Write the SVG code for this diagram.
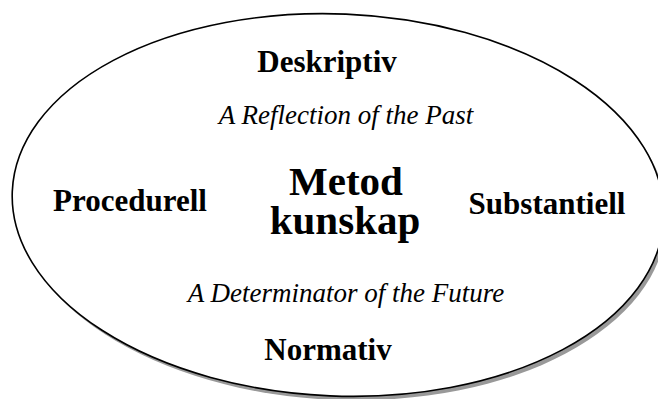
<svg xmlns="http://www.w3.org/2000/svg" width="658" height="399" viewBox="0 0 658 399">
  <style>
    .label { font-family: "Liberation Serif", "Times New Roman", serif; font-weight: bold; font-size: 31px; fill: #000; text-anchor: middle; }
    .title { font-family: "Liberation Serif", "Times New Roman", serif; font-weight: bold; font-size: 41px; fill: #000; text-anchor: middle; }
    .note { font-family: "Liberation Serif", "Times New Roman", serif; font-style: italic; font-size: 27px; fill: #000; text-anchor: middle; }
  </style>
  <defs>
    <ellipse id="shape" cx="0" cy="0" rx="326" ry="191"/>
  </defs>
  <rect width="658" height="399" fill="#fff"/>
  <!-- drop shadow and outline of the ellipse -->
  <g id="ellipse">
    <use href="#shape" transform="translate(341 209) rotate(2.4)" fill="#999"/>
    <use href="#shape" transform="translate(338 205) rotate(2.4)" fill="#fff" stroke="#000" stroke-width="1.6"/>
  </g>
  <g id="connectors"></g>
  <g id="deskriptiv"><text class="label" x="327" y="72">Deskriptiv</text></g>
  <g id="reflection"><text class="note" x="346" y="124">A Reflection of the Past</text></g>
  <g id="procedurell"><text class="label" x="130" y="211">Procedurell</text></g>
  <g id="metodkunskap">
    <text class="title" x="346" y="195">Metod</text>
    <text class="title" x="345" y="234">kunskap</text>
  </g>
  <g id="substantiell"><text class="label" x="547" y="214">Substantiell</text></g>
  <g id="determinator"><text class="note" x="346" y="302">A Determinator of the Future</text></g>
  <g id="normativ"><text class="label" x="328" y="360">Normativ</text></g>
</svg>
